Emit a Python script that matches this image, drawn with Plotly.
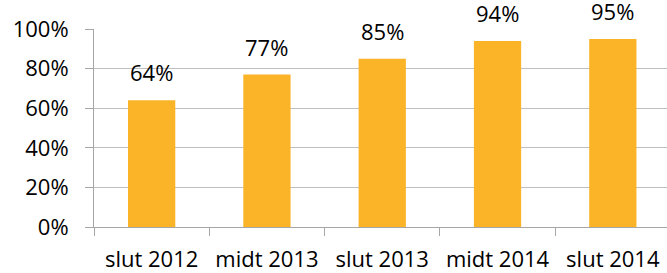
import plotly.graph_objects as go

categories = ["slut 2012", "midt 2013", "slut 2013", "midt 2014", "slut 2014"]
values = [0.64, 0.77, 0.85, 0.94, 0.95]
labels = ["64%", "77%", "85%", "94%", "95%"]
y_ticks = [0, 0.2, 0.4, 0.6, 0.8, 1.0]
y_tick_labels = ["0%", "20%", "40%", "60%", "80%", "100%"]

FONT = "Open Sans"
fig = go.Figure()
fig.add_trace(go.Bar(x=categories, y=values, marker_color="#FBB427",
                     marker_line_width=0, width=0.41))

for c, v, t in zip(categories, values, labels):
    fig.add_annotation(x=c, y=v, text=t, showarrow=False, yanchor="bottom",
                       yshift=11, font=dict(family=FONT, size=22, color="#000000"))

fig.update_layout(
    width=667, height=273,
    margin=dict(l=94, r=0, t=29, b=46, autoexpand=False),
    plot_bgcolor="white", paper_bgcolor="white",
    showlegend=False,
    font=dict(family=FONT, size=22, color="#000000"),
    xaxis=dict(range=[-0.5, 4.47], showgrid=False, showline=True,
               linecolor="#A6A6A6", linewidth=1, ticks="outside",
               tickson="boundaries", ticklen=8, tickcolor="#A6A6A6",
               ticklabelstandoff=13, fixedrange=True, automargin=False),
    yaxis=dict(range=[0, 1], tickvals=y_ticks, ticktext=y_tick_labels,
               showgrid=True, gridcolor="#BFBFBF", gridwidth=1,
               showline=True, linecolor="#A6A6A6", linewidth=1,
               ticks="outside", ticklen=8, tickcolor="#A6A6A6",
               ticklabelstandoff=12, zeroline=False, fixedrange=True,
               automargin=False),
)

fig.write_html("out.html", config={"displayModeBar": False},
               post_script="document.body.style.margin='0px';")
